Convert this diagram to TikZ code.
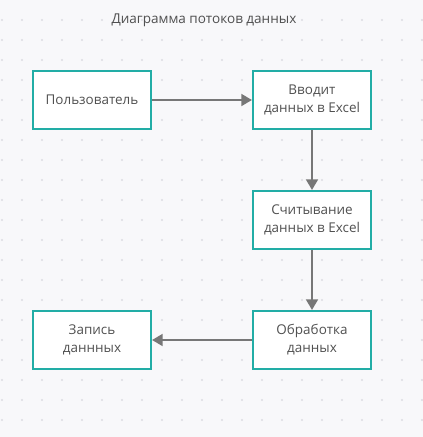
\documentclass[tikz,border=0pt]{standalone}
\usepackage{fontspec}
\setmainfont{Open Sans}
\usetikzlibrary{arrows.meta}
\definecolor{bg}{HTML}{F8F8FA}
\definecolor{dotc}{HTML}{DCDCE2}
\definecolor{teal}{HTML}{22ADA6}
\definecolor{txt}{HTML}{505050}
\definecolor{arr}{HTML}{777777}
\tikzset{
  box/.style={draw=teal, line width=1.6pt, fill=white, minimum width=88.5pt, minimum height=43.5pt, inner sep=0pt, align=center, text=txt, font=\fontsize{10.1}{13.5}\selectfont},
  conn/.style={draw=arr, line width=1.5pt, -{Triangle[length=8pt,width=9pt]}},
}
\begin{document}
\begin{tikzpicture}[x=0.75pt,y=-0.75pt]
\fill[bg] (0,0) rectangle (423,437);
\useasboundingbox (0,0) rectangle (423,437);
\foreach \i in {0,...,21}{\foreach \j in {1,...,21}{\fill[dotc] (2+20*\i,20*\j) circle (0.9pt);}}
\node[text=txt, font=\fontsize{10.15}{12}\selectfont] (title) at (204,20) {Диаграмма потоков данных};
\node[box] (user) at (92,100) {Пользователь};
\node[box] (input) at (312,100) {Вводит\\данных в Excel};
\node[box] (read) at (312,220) {Считывание\\данных в Excel};
\node[box] (proc) at (312,340) {Обработка\\данных};
\node[box] (write) at (92,340) {Запись\\даннных};
\draw[conn] (user) -- (input);
\draw[conn] (input) -- (read);
\draw[conn] (read) -- (proc);
\draw[conn] (proc) -- (write);
\end{tikzpicture}
\end{document}
